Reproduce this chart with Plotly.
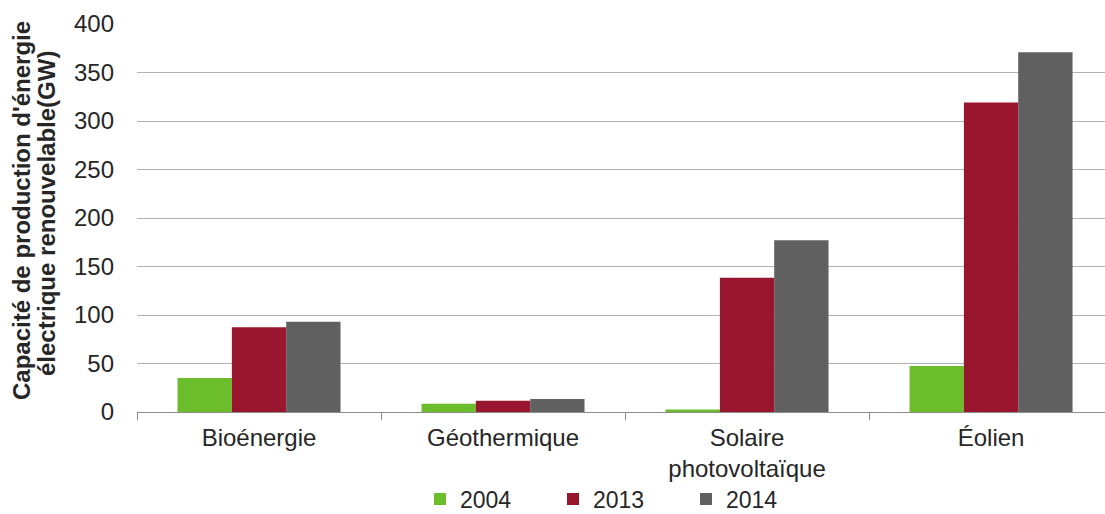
import plotly.graph_objects as go

categories = ["Bioénergie", "Géothermique", "Solaire<br>photovoltaïque", "Éolien"]
years = ["2004", "2013", "2014"]
values_2004 = [35, 8.5, 2.5, 47.5]
values_2013 = [87.5, 11.5, 138.5, 319]
values_2014 = [93, 13.5, 177, 371]
colors = ["#6cbd2b", "#98172e", "#606060"]
title_lines = ["Capacité de production d'énergie", "électrique renouvelable(GW)"]

L, R, T, B = 137, 0, 24, 102
W, H = 1105, 514
pw, ph = W - L - R, H - T - B

fig = go.Figure()
legend_names = ["legend", "legend2", "legend3"]
for name, vals, col, lg in zip(years, [values_2004, values_2013, values_2014], colors, legend_names):
    fig.add_trace(go.Bar(name=name, x=categories, y=vals, legend=lg,
                         marker=dict(color=col, line=dict(width=0))))

legend_left_px = [420, 553, 686]
leg_common = dict(orientation="h", yanchor="middle", y=(412 - 499) / ph,
                  xanchor="left", font=dict(size=23), bgcolor="rgba(0,0,0,0)",
                  itemwidth=30, borderwidth=0)

fig.update_layout(
    width=W, height=H,
    margin=dict(l=L, r=R, t=T, b=B, autoexpand=False),
    paper_bgcolor="white", plot_bgcolor="white",
    barmode="group", bargap=0.332, bargroupgap=0,
    font=dict(family="Liberation Sans, Arial, sans-serif", size=24, color="#262626"),
    showlegend=True,
    legend=dict(x=(legend_left_px[0] - L) / pw, **leg_common),
    legend2=dict(x=(legend_left_px[1] - L) / pw, **leg_common),
    legend3=dict(x=(legend_left_px[2] - L) / pw, **leg_common),
    xaxis=dict(range=[-0.5, 3.467], showline=True, linecolor="#8c8c8c", linewidth=1,
               ticks="outside", tickson="boundaries", ticklen=7, tickcolor="#8c8c8c",
               showgrid=False, tickfont=dict(size=24), automargin=False,
               ticklabelstandoff=4),
    yaxis=dict(range=[0, 400], dtick=50, showgrid=True, gridcolor="#b3b3b3", gridwidth=1,
               zeroline=False, showline=False, ticks="", tickfont=dict(size=24),
               ticklabelstandoff=22, automargin=False),
)

for xpx, ypx, txt in [(22, 211, title_lines[0]), (46, 214, title_lines[1])]:
    fig.add_annotation(text="<b>" + txt + "</b>", textangle=-90,
                       xref="paper", yref="paper",
                       x=(xpx - L) / pw, y=(412 - ypx) / ph,
                       xanchor="center", yanchor="middle", showarrow=False,
                       font=dict(size=24, color="#262626"))

fig.write_html("out.html", config={"displayModeBar": False},
               post_script="document.body.style.margin='0px';")
